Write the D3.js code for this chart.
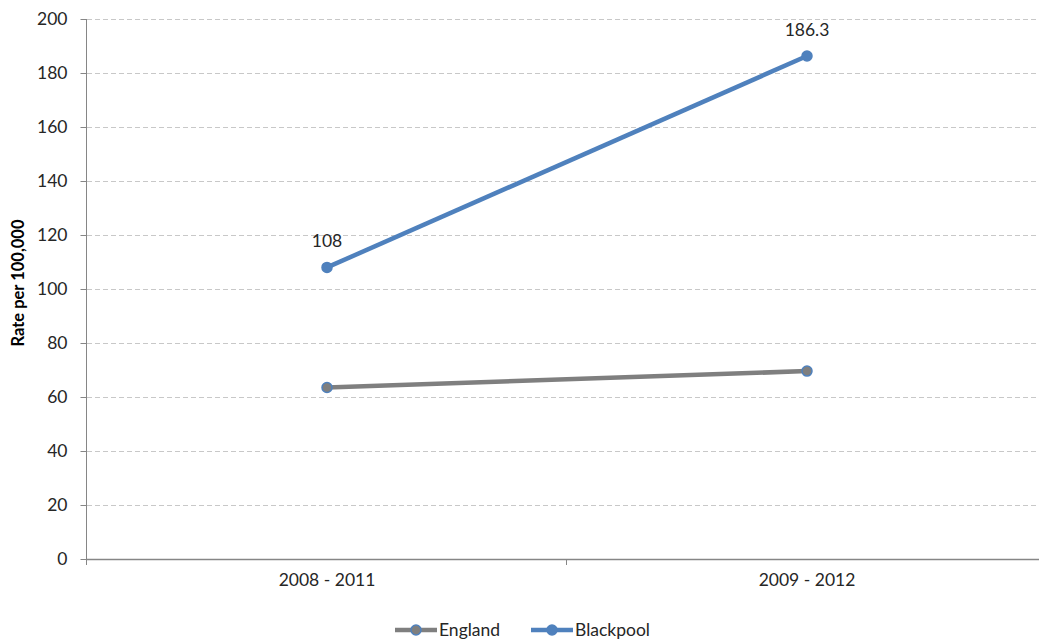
<!DOCTYPE html>
<html><head><meta charset="utf-8">
<script src="https://cdn.jsdelivr.net/npm/d3@7"></script>
<style>body{margin:0;background:#fff;} text{font-family:Lato,"Open Sans",sans-serif;}</style>
</head><body><svg id="c" width="1039" height="643"></svg>
<script>
const categories = ["2008 - 2011", "2009 - 2012"];
const england = [63.5, 69.6];
const blackpool = [108, 186.3];
const yTicks = [0,20,40,60,80,100,120,140,160,180,200];
const seriesNames = ["England", "Blackpool"];

const svg = d3.select("#c");
const pL = 87, pR = 1047, pT = 19, pB = 559;
const x = d3.scaleBand().domain(categories).range([pL, pR]);
const y = d3.scaleLinear().domain([0,200]).range([pB, pT]);
const fs = 17.5;

// gridlines
svg.append("g").selectAll("line").data(yTicks.filter(d=>d>0)).join("line")
  .attr("x1", pL).attr("x2", 1039).attr("y1", d=>y(d)+0.5).attr("y2", d=>y(d)+0.5)
  .attr("stroke", "#c8c8c8").attr("stroke-dasharray", "5,3");

// y axis
const ya = svg.append("g").attr("transform", `translate(${pL-0.5},0)`)
  .call(d3.axisLeft(y).tickValues(yTicks).tickSize(6).tickPadding(13));
ya.select(".domain").attr("stroke", "#868686").attr("d", `M0,${pT}V${pB}`);
ya.selectAll(".tick line").attr("stroke", "#868686");
ya.selectAll("text").attr("font-size", fs).attr("fill", "#262626").attr("font-family", "Lato");

// x axis
const xa = svg.append("g").attr("transform", `translate(0,${pB+0.5})`)
  .call(d3.axisBottom(x).tickSize(0).tickPadding(14));
xa.select(".domain").attr("stroke", "#868686").attr("stroke-width", 1.3).attr("d", `M${pL},0H1039`);
xa.selectAll("text").attr("font-size", fs).attr("fill", "#262626").attr("font-family", "Lato");
// category boundary ticks
const bounds = [pL, pL + x.bandwidth(), pR];
svg.append("g").selectAll("line").data(bounds).join("line")
  .attr("x1", d=>d-0.5).attr("x2", d=>d-0.5).attr("y1", pB).attr("y2", pB+6)
  .attr("stroke", "#868686");

// y title
svg.append("text").attr("transform", `translate(24,${283}) rotate(-90)`)
  .attr("text-anchor", "middle").attr("font-size", 16.5).attr("font-weight", "bold")
  .attr("fill", "#000").text("Rate per 100,000");

const cx = d => x(d) + x.bandwidth()/2;
const line = d3.line().x((d,i)=>cx(categories[i])).y(d=>y(d));

const series = [
  {name: seriesNames[0], vals: england, color: "#7f7f7f", mfill: "#7f7f7f", mstroke: "#4f81bd"},
  {name: seriesNames[1], vals: blackpool, color: "#4f81bd", mfill: "#4f81bd", mstroke: "#4f81bd"}
];
series.forEach(s => {
  svg.append("path").datum(s.vals).attr("d", line).attr("fill","none")
    .attr("stroke", s.color).attr("stroke-width", 4.5);
  svg.append("g").selectAll("circle").data(s.vals).join("circle")
    .attr("cx", (d,i)=>cx(categories[i])).attr("cy", d=>y(d)).attr("r", 5)
    .attr("fill", s.mfill).attr("stroke", s.mstroke).attr("stroke-width", 1.5);
});

// data labels for Blackpool
svg.append("g").selectAll("text").data(blackpool).join("text")
  .attr("x", (d,i)=>cx(categories[i])).attr("y", d=>y(d)-20)
  .attr("text-anchor", "middle").attr("font-size", fs).attr("fill", "#262626")
  .text(d=>d);

// legend
const leg = [{s: series[0], x0: 395, tx: 439}, {s: series[1], x0: 531, tx: 575}];
leg.forEach(l => {
  svg.append("line").attr("x1", l.x0).attr("x2", l.x0+42).attr("y1", 630).attr("y2", 630)
    .attr("stroke", l.s.color).attr("stroke-width", 4.5);
  svg.append("circle").attr("cx", l.x0+21).attr("cy", 630).attr("r", 5)
    .attr("fill", l.s.mfill).attr("stroke", l.s.mstroke).attr("stroke-width", 1.5);
  svg.append("text").attr("x", l.tx).attr("y", 636).attr("font-size", fs)
    .attr("fill", "#262626").text(l.s.name);
});
</script></body></html>
